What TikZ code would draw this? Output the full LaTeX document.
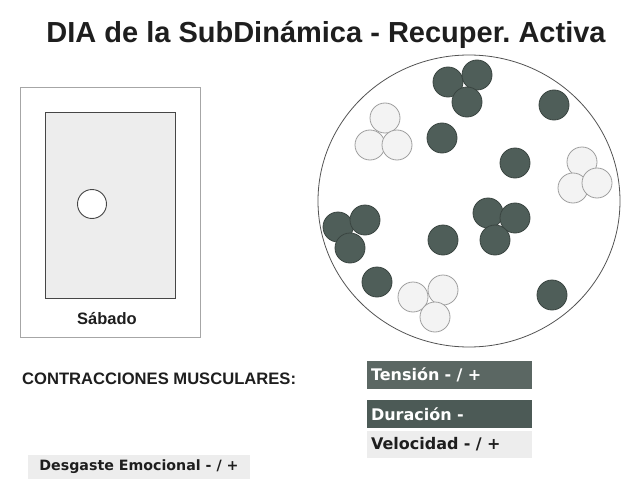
\documentclass[tikz,border=0pt]{standalone}
\usepackage{fontspec}
\setmainfont{Liberation Sans}
\newfontfamily\heavyfont{DejaVu Sans}
\usetikzlibrary{shapes.geometric}
\definecolor{dotdark}{HTML}{4F5E59}
\definecolor{dotedge}{HTML}{3A4541}
\definecolor{dotlight}{HTML}{F3F3F3}
\definecolor{boxtens}{HTML}{5B6763}
\definecolor{boxdur}{HTML}{4C5A56}
\definecolor{boxlight}{HTML}{EDEDED}
\definecolor{inkdark}{HTML}{1E1E1E}
\begin{document}
\frenchspacing
\begin{tikzpicture}[x=1pt,y=-1pt,
  darkdot/.style={circle,fill=dotdark,draw=dotedge,line width=0.8pt,minimum size=30pt,inner sep=0pt},
  lightdot/.style={circle,fill=dotlight,draw=gray!75,line width=0.8pt,minimum size=30pt,inner sep=0pt},
  barbox/.style={minimum width=165pt,minimum height=28pt,inner xsep=4pt,inner ysep=0pt,
    text width=157pt,align=left,font=\heavyfont\bfseries\fontsize{16}{18}\selectfont},
  plain/.style={inner sep=0pt,text=inkdark}]
\useasboundingbox (0,0) rectangle (625,479);
\fill[white] (0,0) rectangle (625,479);

% title
\node[plain,font=\bfseries\fontsize{29}{31}\selectfont] (title) at (326,35) {DIA de la SubDinámica - Recuper. Activa};

% left card
\node[draw=gray!70,line width=0.8pt,minimum width=180pt,minimum height=250pt,inner sep=0pt] (outer) at (110,212) {};
\node[draw=gray!55!black,fill=gray!14,line width=1pt,minimum width=130pt,minimum height=186pt,inner sep=0pt] (inner) at (110,205) {};
\node[circle,draw=gray!55!black,fill=white,line width=0.9pt,minimum size=29pt,inner sep=0pt] (spot) at (92,204) {};
\node[plain,font=\bfseries\fontsize{16.5}{18}\selectfont] (sabado) at (107,319) {Sábado};

% big circle
\node[ellipse,draw=gray!65!black,line width=0.8pt,minimum width=302pt,minimum height=292pt,inner sep=0pt] (big) at (469,201) {};

% light clusters
\node[lightdot] (w1) at (385,118) {};
\node[lightdot] (w2) at (370,145) {};
\node[lightdot] (w3) at (397,145) {};
\node[lightdot] (w4) at (582,162) {};
\node[lightdot] (w5) at (573,188) {};
\node[lightdot] (w6) at (597,183) {};
\node[lightdot] (w7) at (413,297) {};
\node[lightdot] (w8) at (443,290) {};
\node[lightdot] (w9) at (435,317) {};

% dark dots
\node[darkdot] (d1) at (448,82) {};
\node[darkdot] (d2) at (477,75) {};
\node[darkdot] (d3) at (467,102) {};
\node[darkdot] (d4) at (554,105) {};
\node[darkdot] (d5) at (442,138) {};
\node[darkdot] (d6) at (515,163) {};
\node[darkdot] (d7) at (338,227) {};
\node[darkdot] (d8) at (365,220) {};
\node[darkdot] (d9) at (350,248) {};
\node[darkdot] (d10) at (443,240) {};
\node[darkdot] (d11) at (488,213) {};
\node[darkdot] (d12) at (515,218) {};
\node[darkdot] (d13) at (495,240) {};
\node[darkdot] (d14) at (377,282) {};
\node[darkdot] (d15) at (552,295) {};

% bottom texts
\node[plain,anchor=west,font=\bfseries\fontsize{16.6}{19}\selectfont] (contr) at (22,379) {CONTRACCIONES MUSCULARES:};
\node[barbox,fill=boxtens,text=white] (tens) at (449.5,375) {Tensión - / +};
\node[barbox,fill=boxdur,text=white] (dur) at (449.5,414) {Duración -};
\node[barbox,fill=boxlight,text=inkdark,minimum height=27pt] (vel) at (449.5,444) {Velocidad - / +};
\node[fill=boxlight,minimum width=222pt,minimum height=25pt,inner sep=0pt,text=inkdark,font=\heavyfont\bfseries\fontsize{14.2}{16}\selectfont] (desg) at (139,467) {Desgaste Emocional - / +};
\end{tikzpicture}
\end{document}
